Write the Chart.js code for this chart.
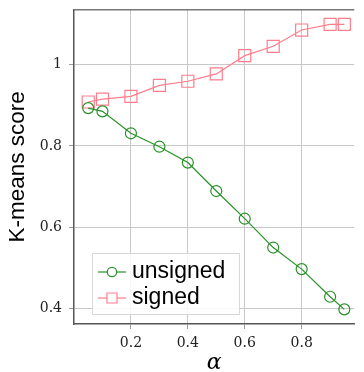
<!DOCTYPE html>
<html><head><meta charset="utf-8">
<script src="https://cdn.jsdelivr.net/npm/chart.js@4/dist/chart.umd.min.js"></script>
<style>html,body{margin:0;padding:0;background:#fff}#wrap{width:364px;height:372px}</style>
</head><body><div id="wrap"><canvas id="c" width="364" height="372"></canvas></div>
<script>
const alphas = [0.05,0.1,0.2,0.3,0.4,0.5,0.6,0.7,0.8,0.9,0.95];
const unsignedScores = [0.893,0.885,0.831,0.798,0.759,0.689,0.621,0.550,0.497,0.429,0.398];
const signedScores = [0.908,0.915,0.922,0.949,0.959,0.977,1.022,1.045,1.085,1.099,1.099];
const xTicks = [0.2,0.4,0.6,0.8];
const yTicks = [0.4,0.6,0.8,1];
const seriesLabels = ['unsigned','signed'];

const GREEN = 'rgb(40,145,40)';
const PINK = 'rgb(255,125,140)';

const pts = (ys) => alphas.map((x,i)=>({x, y: ys[i]}));

const framePlugin = {
  id: 'frame',
  afterDatasetsDraw(chart){
    const {ctx, chartArea:a} = chart;
    ctx.save();
    ctx.strokeStyle = '#777';
    ctx.lineWidth = 1.5;
    ctx.beginPath();
    ctx.moveTo(a.left, a.top); ctx.lineTo(a.right, a.top);
    ctx.stroke();
    // legend
    const bx=92, by=253, bw=147, bh=61;
    ctx.fillStyle='rgba(255,255,255,0.85)';
    ctx.fillRect(bx,by,bw,bh);
    ctx.strokeStyle='#d8d8d8';
    ctx.lineWidth = 1;
    ctx.strokeRect(bx+0.5,by+0.5,bw,bh);
    const rows = [
      {label: seriesLabels[0], color: GREEN, style:'circle', y: 272},
      {label: seriesLabels[1], color: PINK, style:'rect', y: 298}
    ];
    rows.forEach(r=>{
      ctx.strokeStyle=r.color; ctx.lineWidth=1.2;
      ctx.beginPath(); ctx.moveTo(98,r.y); ctx.lineTo(126,r.y); ctx.stroke();
      ctx.beginPath();
      if(r.style==='circle'){ ctx.arc(112,r.y,4.7,0,Math.PI*2); }
      else { ctx.rect(107,r.y-5,10,10); }
      ctx.fillStyle='#fff'; ctx.fill(); ctx.stroke();
      ctx.fillStyle='#000';
      ctx.font='23px "Liberation Sans", Arial, sans-serif';
      ctx.textBaseline='middle'; ctx.textAlign='left';
      ctx.fillText(r.label, 132, r.y);
    });
    ctx.restore();
  }
};

new Chart(document.getElementById('c'), {
  type: 'scatter',
  data: {
    datasets: [
      {label: seriesLabels[0], data: pts(unsignedScores), showLine: true,
       borderColor: GREEN, backgroundColor: 'rgba(0,0,0,0)', borderWidth: 1.2,
       pointStyle: 'circle', pointRadius: 5.5, pointBorderWidth: 1.2, pointBorderColor: GREEN,
       pointBackgroundColor: 'rgba(0,0,0,0)'},
      {label: seriesLabels[1], data: pts(signedScores), showLine: true,
       borderColor: PINK, backgroundColor: 'rgba(0,0,0,0)', borderWidth: 1.2,
       pointStyle: 'rect', pointRadius: 8.5, pointBorderWidth: 1.2, pointBorderColor: PINK,
       pointBackgroundColor: 'rgba(0,0,0,0)'}
    ]
  },
  options: {
    responsive: false, animation: false, devicePixelRatio: 1,
    layout: {padding: {top: 7, right: 1, left: 0, bottom: 0}},
    plugins: {legend: {display: false}, tooltip: {enabled: false}},
    scales: {
      x: {
        type: 'linear', min: 0, max: 0.985,
        afterBuildTicks: s => { s.ticks = xTicks.map(v=>({value:v})); },
        afterFit: s => { s.height = 48; s.paddingLeft = 0; s.paddingRight = 0; },
        ticks: {font: {family: '"DejaVu Serif", serif', size: 14}, color: '#222', padding: 6,
                callback: v => String(v)},
        grid: {color: '#c8c8c8', tickLength: 5, tickColor: '#999'},
        border: {color: '#555', width: 1.5},
        title: {display: true, text: 'α', font: {family: '"DejaVu Serif", serif', size: 22, style: 'italic', lineHeight: 0.75},
                color: '#000', padding: {top: 0, bottom: 0}}
      },
      y: {
        type: 'linear', min: 0.362, max: 1.135,
        afterBuildTicks: s => { s.ticks = yTicks.map(v=>({value:v})); },
        afterFit: s => { s.width = 74; s.paddingTop = 0; s.paddingBottom = 0; },
        ticks: {font: {family: '"DejaVu Serif", serif', size: 14}, color: '#222', padding: 7,
                callback: v => String(v)},
        grid: {color: '#c8c8c8', tickLength: 5, tickColor: '#999'},
        border: {color: '#555', width: 1.5},
        title: {display: true, text: 'K-means score', font: {family: '"Liberation Sans", Arial, sans-serif', size: 22.5},
                color: '#000', padding: {top: 4, bottom: 0}}
      }
    }
  },
  plugins: [framePlugin]
});
</script></body></html>
